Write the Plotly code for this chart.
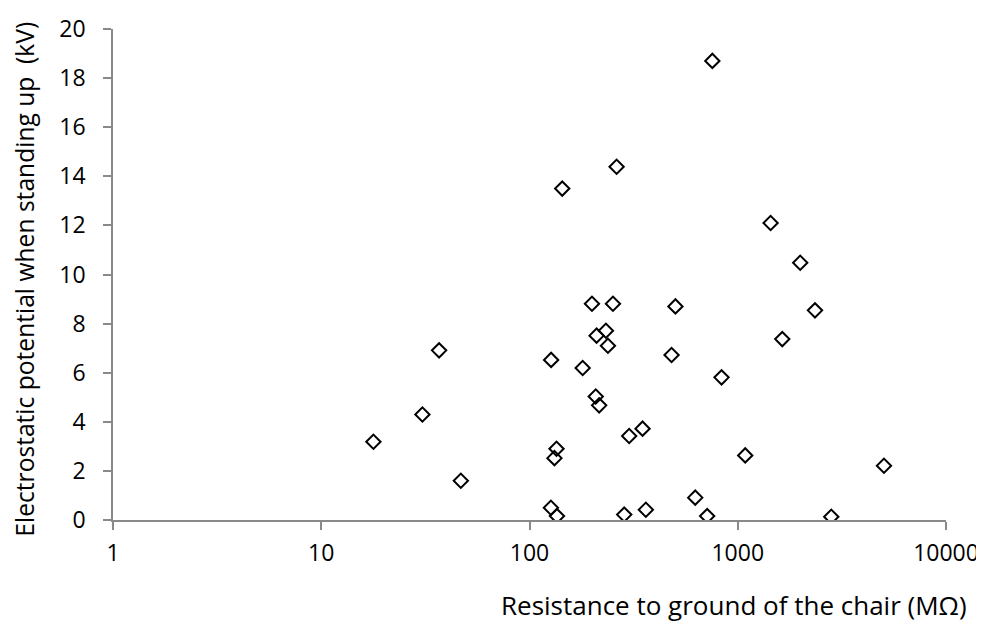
import plotly.graph_objects as go

resistance_mohm = [755, 262, 143.6, 1438, 1995,
                   36.8, 30.6, 17.8, 46.8,
                   199.5, 251.6, 502, 2349, 232.8, 210, 238, 1636, 481, 127, 180, 836,
                   208, 216, 349, 301, 134.8, 131.8, 1086, 5036, 625, 126.7, 135.5,
                   285, 362, 713, 2812]
potential_kv = [18.70, 14.39, 13.50, 12.10, 10.48,
                6.91, 4.30, 3.19, 1.60,
                8.81, 8.81, 8.70, 8.54, 7.71, 7.51, 7.10, 7.37, 6.72, 6.52, 6.19, 5.81,
                5.03, 4.67, 3.72, 3.42, 2.90, 2.52, 2.63, 2.21, 0.91, 0.50, 0.16,
                0.22, 0.42, 0.16, 0.13]

x_ticks = [1, 10, 100, 1000, 10000]
y_ticks = [0, 2, 4, 6, 8, 10, 12, 14, 16, 18, 20]

x_title = "Resistance to ground of the chair (MΩ)"
y_title = "Electrostatic potential when standing up  (kV)"

FONT = "Open Sans"
AXIS_COLOR = "#898989"
TICK_SIZE = 23

fig = go.Figure()
fig.add_trace(go.Scatter(
    x=resistance_mohm, y=potential_kv, mode="markers",
    marker=dict(symbol="diamond-open", size=11, color="black",
                line=dict(color="black", width=2)),
    showlegend=False,
))

# the page body has an 8px margin, so the figure is sized to fit the window
fig.update_layout(
    template="none",
    width=976, height=616,
    margin=dict(l=105, r=38, t=21, b=104),
    paper_bgcolor="white", plot_bgcolor="white",
    font=dict(family=FONT, size=TICK_SIZE, color="black"),
    xaxis=dict(type="log", range=[0, 4], tickvals=x_ticks,
               ticktext=[str(v) for v in x_ticks], automargin=False,
               showgrid=False, zeroline=False, showline=True,
               linecolor=AXIS_COLOR, linewidth=1.5, mirror=False,
               ticks="outside", ticklen=8, tickcolor=AXIS_COLOR, tickwidth=1.5,
               ticklabelstandoff=4,
               tickfont=dict(family=FONT, size=TICK_SIZE, color="black")),
    yaxis=dict(range=[0, 20], tickvals=y_ticks, automargin=False,
               showgrid=False, zeroline=False, showline=True,
               linecolor=AXIS_COLOR, linewidth=1.5, mirror=False,
               ticks="outside", ticklen=8, tickcolor=AXIS_COLOR, tickwidth=1.5,
               ticklabelstandoff=13,
               tickfont=dict(family=FONT, size=TICK_SIZE, color="black")),
    annotations=[
        dict(text=x_title, xref="paper", yref="paper", x=0.7455, y=-0.1726,
             xanchor="center", yanchor="middle", showarrow=False,
             font=dict(family=FONT, size=26, color="black")),
        dict(text=y_title, xref="paper", yref="paper", x=-0.1056, y=0.4896,
             xanchor="center", yanchor="middle", showarrow=False, textangle=-90,
             font=dict(family=FONT, size=24.6, color="black")),
    ],
)

fig.write_html("out.html")
